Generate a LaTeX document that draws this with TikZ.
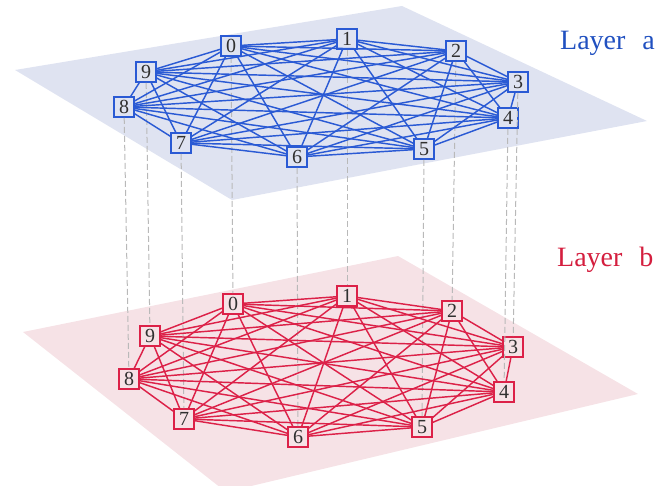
\documentclass[tikz,border=0pt]{standalone}
\usepackage{fontspec}
\setmainfont{Liberation Serif}
\definecolor{planeA}{HTML}{DFE3F1}
\definecolor{planeB}{HTML}{F6E2E6}
\definecolor{edgeA}{HTML}{2A5AD4}
\definecolor{edgeB}{HTML}{DC2148}
\definecolor{txtA}{HTML}{2050C0}
\definecolor{txtB}{HTML}{D41E3E}
\definecolor{digit}{HTML}{303030}
\begin{document}
\begin{tikzpicture}[x=1pt,y=-1pt,
  vbox/.style={draw, rectangle, minimum width=20pt, minimum height=20pt, inner sep=0pt,
     line width=1.6pt, text=digit, font=\fontsize{20}{20}\selectfont},
  vboxA/.style={vbox, draw=edgeA, fill=planeA},
  vboxB/.style={vbox, draw=edgeB, fill=planeB},
  edgeAline/.style={draw=edgeA, line width=1.45pt},
  edgeBline/.style={draw=edgeB, line width=1.45pt},
  interlink/.style={draw=gray!55, dash pattern=on 6pt off 3pt, line width=1pt},
  layerlabel/.style={anchor=base west, inner sep=0pt, font=\fontsize{28}{28}\selectfont}]
\useasboundingbox (0,0) rectangle (672,486);
% planes
\fill[planeA] (15,70) -- (402,6) -- (647,121) -- (232,200) -- cycle;
\begin{scope}
\clip (0,0) rectangle (672,486);
\fill[planeB] (23,332) -- (398,256) -- (638,394) -- (226,492) -- cycle;
\end{scope}
% layer a nodes
\node[vboxA] (a0) at (231,46) {0};
\node[vboxA] (a1) at (347,39) {1};
\node[vboxA] (a2) at (456,51) {2};
\node[vboxA] (a3) at (518,82) {3};
\node[vboxA] (a4) at (508,118) {4};
\node[vboxA] (a5) at (424,149) {5};
\node[vboxA] (a6) at (297,157) {6};
\node[vboxA] (a7) at (181,143) {7};
\node[vboxA] (a8) at (124,107) {8};
\node[vboxA] (a9) at (146,72) {9};
% layer b nodes
\node[vboxB] (b0) at (233,304) {0};
\node[vboxB] (b1) at (347,296) {1};
\node[vboxB] (b2) at (452,311) {2};
\node[vboxB] (b3) at (513,347) {3};
\node[vboxB] (b4) at (504,392) {4};
\node[vboxB] (b5) at (422,427) {5};
\node[vboxB] (b6) at (298,437) {6};
\node[vboxB] (b7) at (184,419) {7};
\node[vboxB] (b8) at (129,379) {8};
\node[vboxB] (b9) at (150,336) {9};
% inter-layer links
\foreach \i in {0,...,9}{\draw[interlink] (a\i) -- (b\i);}
% intra-layer edges (complete graphs)
\foreach \i in {0,...,8}{
  \pgfmathtruncatemacro\nxt{\i+1}
  \foreach \j in {\nxt,...,9}{
    \draw[edgeAline] (a\i) -- (a\j);
    \draw[edgeBline] (b\i) -- (b\j);
  }
}
% labels
\node[layerlabel, text=txtA] (la) at (560,50) {Layer\hspace{0.6em}a};
\node[layerlabel, text=txtB] (lb) at (557,267) {Layer\hspace{0.6em}b};
\end{tikzpicture}
\end{document}
